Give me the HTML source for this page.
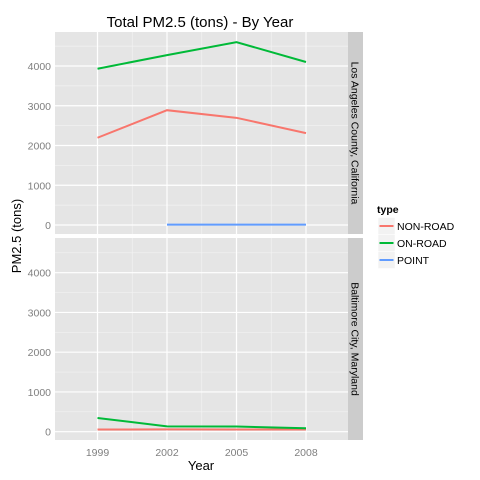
<!DOCTYPE html>
<html><head><meta charset="utf-8"><style>body{margin:0;background:#fff}svg{display:block;font-family:"Liberation Sans",sans-serif}</style></head><body>
<svg id="c" width="480" height="480"></svg>
<script>
const years=[1999,2002,2005,2008];
const panels=["Los Angeles County, California","Baltimore City, Maryland"];
const types=["NON-ROAD","ON-ROAD","POINT"];
const laNonRoad=[2195,2888,2696,2312];
const laOnRoad=[3931,4274,4601,4101];
const laPoint=[null,10,10,10];
const baNonRoad=[55,57,55,56];
const baOnRoad=[346,134,130,88];
const baPoint=[null,null,null,null];
const yTicks=[0,1000,2000,3000,4000];
const colors={"NON-ROAD":"#F8766D","ON-ROAD":"#00BA38","POINT":"#619CFF"};
const data=[{"NON-ROAD":laNonRoad,"ON-ROAD":laOnRoad,"POINT":laPoint},{"NON-ROAD":baNonRoad,"ON-ROAD":baOnRoad,"POINT":baPoint}];
const svg=document.getElementById('c');const NS="http://www.w3.org/2000/svg";
function mk(t,a,p){const e=document.createElementNS(NS,t);for(const k in a)e.setAttribute(k,a[k]);(p||svg).appendChild(e);return e;}
const L=55,R=348;
const x=v=>97.5+(v-1999)*(69.5/3);
const pTop=[32,238],pBot=[234,440],zero=[225,431.7];
const y=(p,v)=>zero[p]-v*0.03975;
let t=mk('text',{x:200,y:27,'text-anchor':'middle','font-size':15});t.textContent="Total PM2.5 (tons) - By Year";


panels.forEach((name,p)=>{
 const g=mk('g',{});
 
 
 mk('rect',{x:L,y:pTop[p],width:R-L,height:pBot[p]-pTop[p],fill:'#E5E5E5'},g);
 for(let v=500;v<4800;v+=1000){const yy=y(p,v);if(yy>pTop[p])mk('line',{x1:L,x2:R,y1:yy,y2:yy,stroke:'#F2F2F2','stroke-width':0.7},g);}
 [x(2000.5),x(2003.5),x(2006.5)].forEach(xx=>mk('line',{x1:xx,x2:xx,y1:pTop[p],y2:pBot[p],stroke:'#F2F2F2','stroke-width':0.7},g));
 yTicks.forEach(v=>{const yy=y(p,v);mk('line',{x1:L,x2:R,y1:yy,y2:yy,stroke:'#fff','stroke-width':1.2},g);
  const tt=mk('text',{x:51,y:yy+4,'text-anchor':'end','font-size':10.5,fill:'#7F7F7F'},g);tt.textContent=v;
  
  });
 years.forEach(v=>mk('line',{x1:x(v),x2:x(v),y1:pTop[p],y2:pBot[p],stroke:'#fff','stroke-width':1.2},g));
 mk('rect',{x:R,y:pTop[p],width:15,height:pBot[p]-pTop[p],fill:'#CCCCCC'},g);
 const st=mk('text',{'font-size':10.5,'text-anchor':'middle',transform:`translate(${R+3.5},${(pTop[p]+pBot[p])/2}) rotate(90)`},g);st.textContent=name;
 
 
 types.forEach(tp=>{const vals=data[p][tp];const pts=[];vals.forEach((v,i)=>{if(v!=null)pts.push(x(years[i])+','+y(p,v));});
  if(pts.length>1){const pl=mk('polyline',{points:pts.join(' '),fill:'none',stroke:colors[tp],'stroke-width':2},g);
  
  }});
});
years.forEach(v=>{const tt=mk('text',{x:x(v),y:456,'text-anchor':'middle','font-size':10.5,fill:'#7F7F7F'});tt.textContent=v;
 
 });
t=mk('text',{x:201,y:470,'text-anchor':'middle','font-size':13});t.textContent="Year";


t=mk('text',{'text-anchor':'middle','font-size':13,transform:'translate(21,236) rotate(-90)'});t.textContent="PM2.5 (tons)";


t=mk('text',{x:377,y:213,'font-size':10.5,'font-weight':'bold'});t.textContent="type";


types.forEach((tp,i)=>{const cy=226+i*17;const g=mk('g',{});
 
 
 mk('rect',{x:378,y:cy-8.5,width:17,height:17,fill:'#F2F2F2',stroke:'#fff','stroke-width':0.5},g);
 mk('line',{x1:379.5,x2:393.5,y1:cy,y2:cy,stroke:colors[tp],'stroke-width':2},g);
 const tt=mk('text',{x:397,y:cy+4,'font-size':10.5},g);tt.textContent=tp;});
</script></body></html>
